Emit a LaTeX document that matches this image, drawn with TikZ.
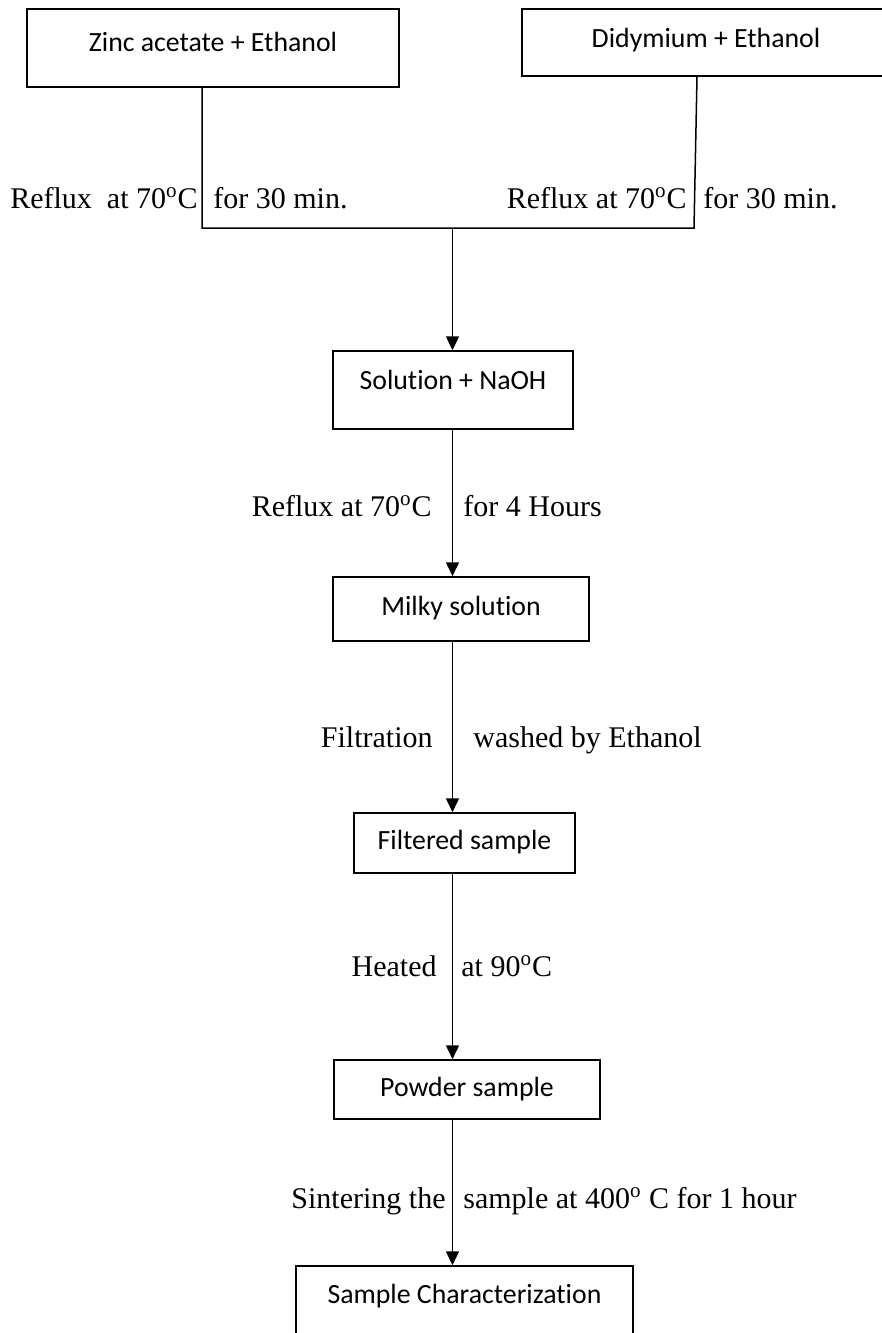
\documentclass[tikz,border=0pt]{standalone}
\usepackage{fontspec}
\setmainfont{Liberation Serif}
\newfontfamily\boxfont[Ligatures=NoCommon]{Carlito}
\usetikzlibrary{arrows.meta,positioning}
\tikzset{
  procbox/.style={draw=black, line width=0.75pt, rectangle, inner sep=0pt, align=center,
    text height=9pt, text depth=3pt, font=\boxfont\fontsize{13.9}{16}\selectfont},
  steplabel/.style={inner sep=0pt, font=\fontsize{15}{18}\selectfont},
  flowline/.style={line width=0.75pt, black},
  flowarr/.style={-{Triangle[length=7pt,width=6.5pt]}, line width=0.75pt, black}
}

\begin{document}
\begin{tikzpicture}[x=0.5pt,y=-0.5pt]
        \useasboundingbox (0,0) rectangle (882,1333);
        \clip (0,0) rectangle (882,1333);
        % starting solutions
        \node[procbox,minimum width=186pt,minimum height=39pt,text depth=5.5pt] (zinc) at (213,48) {Zinc acetate + Ethanol};
        \node[procbox,minimum width=184pt,minimum height=33.5pt,text depth=4pt] (didy) at (706,42.5) {Didymium + Ethanol};
        % process chain
        \node[procbox,minimum width=120pt,minimum height=39pt,text depth=9.5pt] (sol) at (453,390) {Solution + NaOH};
        \node[procbox,minimum width=128pt,minimum height=32pt,text depth=2.5pt] (milky) at (461,609) {Milky solution};
        \node[procbox,minimum width=110.5pt,minimum height=30pt,text depth=2.5pt] (filt) at (464.5,843) {Filtered sample};
        \node[procbox,minimum width=133pt,minimum height=29.5pt,text depth=2pt] (powder) at (467,1089.5) {Powder sample};
        \node[procbox,minimum width=168.5pt,minimum height=39pt,text depth=10.5pt] (charac) at (464.5,1305) {Sample Characterization};
        % junction points
        \coordinate (jl) at (202,228);
        \coordinate (jr) at (694,228);
        \coordinate (jm) at (452.5,228);
        % connectors
        \draw[flowline] (zinc.south -| jl) -- (jl) -- (jr) -- ([xshift=1.5pt]didy.south -| jr);
        \draw[flowarr] (jm) -- (sol.north -| jm);
        \draw[flowarr] (sol.south -| jm) -- (milky.north -| jm);
        \draw[flowarr] (milky.south -| jm) -- (filt.north -| jm);
        \draw[flowarr] (filt.south -| jm) -- (powder.north -| jm);
        \draw[flowarr] (powder.south -| jm) -- (charac.north -| jm);
        % step labels
        \node[steplabel,anchor=base east] (refluxa) at (198,208) {Reflux\ \ at 70\textsuperscript{o}C};
        \node[steplabel,anchor=base west] (timea) at (213,208) {for 30 min.};
        \node[steplabel,anchor=base east] (refluxb) at (687,208) {Reflux at 70\textsuperscript{o}C};
        \node[steplabel,anchor=base west] (timeb) at (703,208) {for 30 min.};
        \node[steplabel,anchor=base east] (refluxc) at (432,516) {Reflux at 70\textsuperscript{o}C};
        \node[steplabel,anchor=base west] (timec) at (463,516) {for 4 Hours};
        \node[steplabel,anchor=base east] (filtr) at (433,747) {Filtration};
        \node[steplabel,anchor=base west] (washed) at (473,747) {washed by Ethanol};
        \node[steplabel,anchor=base east] (heated) at (437,976) {Heated};
        \node[steplabel,anchor=base west] (heattemp) at (461,976) {at 90\textsuperscript{o}C};
        \node[steplabel,anchor=base east] (sinter) at (446,1208) {Sintering the};
        \node[steplabel,anchor=base west] (sintertemp) at (463,1208) {sample at 400\textsuperscript{o} C for 1 hour};
      \end{tikzpicture}
\end{document}
